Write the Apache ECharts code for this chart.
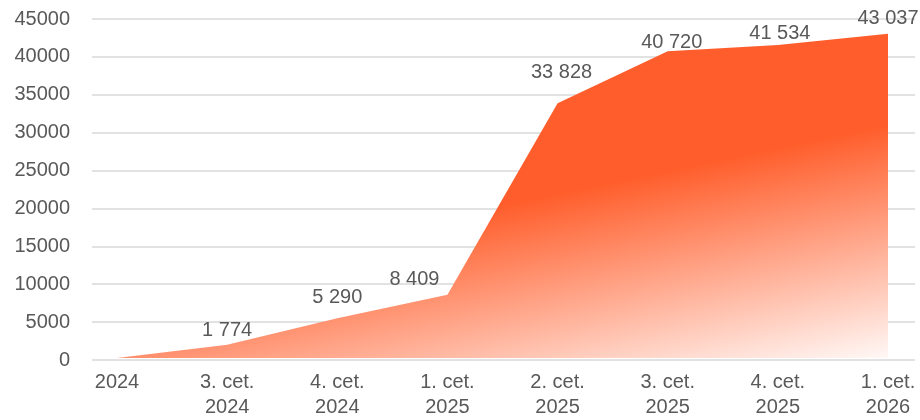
<!DOCTYPE html>
<html>
<head>
<meta charset="utf-8">
<script src="https://cdn.jsdelivr.net/npm/echarts@6/dist/echarts.min.js"></script>
<style>
  html, body { margin: 0; padding: 0; background: #ffffff; }
  #chart { width: 920px; height: 420px; }
</style>
</head>
<body>
<div id="chart"></div>
<script>
// Quarterly cumulative values
const categories = ['2024', '3. cet.\n2024', '4. cet.\n2024', '1. cet.\n2025', '2. cet.\n2025', '3. cet.\n2025', '4. cet.\n2025', '1. cet.\n2026'];
const values = [0, 1774, 5290, 8409, 33828, 40720, 41534, 43037];
const yMin = 0;
const yMax = 45000;
const yStep = 5000;

// small nudges [dx, dy] for the value labels so they clear the area edge
const labelNudges = [[0, 0], [0, 1], [0, -5], [-33, 0], [4, -15], [4, 7], [2, 4], [0, 0]];

const textColor = '#595959';
const fontFamily = '"Liberation Sans", Arial, Helvetica, sans-serif';

// thousands separated by a space
function fmt(v) {
  return String(v).replace(/\B(?=(\d{3})+(?!\d))/g, ' ');
}

const seriesData = values.map((v, i) => i === 0 ? { value: v, label: { show: false } } : v);

const chart = echarts.init(document.getElementById('chart'), null, { renderer: 'canvas' });

chart.setOption({
  backgroundColor: '#ffffff',
  animation: false,
  grid: [
    // wide grid: carries the value axis labels and gridlines
    { left: 92, right: 5, top: 19, bottom: 60 },
    // inner grid: carries the category axis and the area
    { left: 117, right: 32, top: 19, bottom: 60 }
  ],
  xAxis: [
    { gridIndex: 0, type: 'value', show: false, min: 0, max: 1 },
    {
      gridIndex: 1,
      type: 'category',
      data: categories,
      boundaryGap: false,
      axisLine: { show: false },
      axisTick: { show: false },
      splitLine: { show: false },
      axisLabel: {
        color: textColor,
        fontFamily: fontFamily,
        fontSize: 20,
        lineHeight: 25,
        margin: 12,
        interval: 0
      }
    }
  ],
  yAxis: [
    {
      gridIndex: 0,
      type: 'value',
      min: yMin,
      max: yMax,
      interval: yStep,
      axisLine: { show: false },
      axisTick: { show: false },
      axisLabel: {
        color: textColor,
        fontFamily: fontFamily,
        fontSize: 20,
        margin: 22,
        formatter: v => String(v)
      },
      splitLine: { lineStyle: { color: '#d9d9d9', width: 1.5 } }
    },
    {
      gridIndex: 1,
      type: 'value',
      min: yMin,
      max: yMax,
      interval: yStep,
      show: false,
      splitLine: { show: false }
    }
  ],
  series: [
    {
      type: 'line',
      xAxisIndex: 1,
      yAxisIndex: 1,
      data: seriesData,
      symbol: 'circle',
      symbolSize: 1,
      showSymbol: true,
      itemStyle: { color: 'rgba(255,94,44,0)', borderWidth: 0 },
      lineStyle: { width: 0 },
      areaStyle: {
        opacity: 1,
        color: new echarts.graphic.LinearGradient(0.626, 0.469, 0.689, 1.187, [
          { offset: 0, color: '#FF5E2C' },
          { offset: 1, color: '#FFFFFF' }
        ])
      },
      label: {
        show: true,
        position: 'top',
        distance: 5,
        color: textColor,
        opacity: 1,
        fontFamily: fontFamily,
        fontSize: 20,
        formatter: p => fmt(p.value)
      },
      labelLayout: p => {
        const n = labelNudges[p.dataIndex] || [0, 0];
        return { dx: n[0], dy: n[1], hideOverlap: false };
      },
      z: 3
    }
  ]
});
</script>
</body>
</html>
